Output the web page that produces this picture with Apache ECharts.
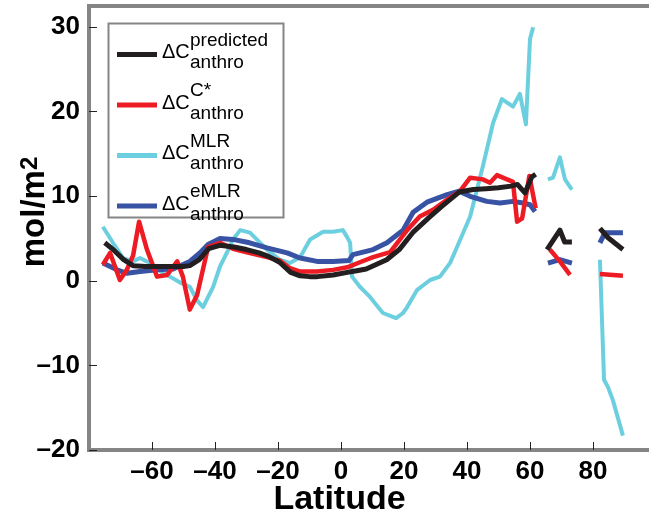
<!DOCTYPE html>
<html><head><meta charset="utf-8">
<script src="https://cdn.jsdelivr.net/npm/echarts@6/dist/echarts.min.js"></script>
<style>html,body{margin:0;padding:0;background:#fff}#c{width:649px;height:517px}</style>
</head><body><div id="c"></div>
<script>
// Legend superscripts (series names)
const seriesNames = ['predicted', 'C*', 'MLR', 'eMLR'];
const seriesColors = ['#231f20', '#ed1c24', '#6ccfdf', '#3953a4'];
const xTicks = [-60, -40, -20, 0, 20, 40, 60, 80];
const yTicks = [-20, -10, 0, 10, 20, 30];
const G = '-'; // gap marker

const predLat = [-75, -72, -69, -66, -62, -58, -54, -50, -48, -45, -42, -38.5, -34, -30, -26, -23, -19.5, -16, -13, -10, -7.5, -2.5, 2, 5, 8, 11, 14.5, 18.5, 23, 28, 32, 37.5, 42, 46, 50, 54, 56, 58.4, 60.6, 61.8, 63, 65.4, 69.5, 71, 73.3, 78, 82.2, 84.8, 89.5];
const predVal = [4.5, 3.6, 2.5, 1.8, 1.7, 1.7, 1.7, 1.7, 1.8, 2.5, 3.8, 4.2, 4.0, 3.7, 3.3, 2.9, 2.2, 1.0, 0.6, 0.5, 0.5, 0.7, 1.0, 1.2, 1.4, 1.9, 2.5, 3.7, 5.8, 7.5, 8.8, 10.5, 10.8, 10.9, 11.0, 11.2, 11.4, 10.4, 12.3, 12.6, G, 3.7, 6.0, 4.6, 4.6, G, 6.2, 5.1, 3.7];

const cstarLat = [-75.6, -73.3, -70.2, -68, -66, -64.1, -61.6, -58.4, -55.2, -52, -50.2, -48, -45.7, -42.2, -38.4, -34.3, -28.9, -23.5, -19.4, -16.2, -13, -7.6, -2.5, 2, 6, 10.2, 15.6, 21, 25, 29.2, 33.7, 37.8, 41, 45, 47.3, 49.5, 52.7, 54.6, 55.9, 57.5, 59.8, 61.8, 63, 66.3, 69.5, 72.7, 78, 82.2, 89.5];
const cstarVal = [1.9, 3.3, 0.1, 1.3, 3.0, 7.0, 3.7, 0.5, 0.7, 2.3, 0.5, -3.4, -1.7, 4.0, 4.5, 3.8, 3.3, 2.8, 2.4, 1.5, 1.1, 1.1, 1.3, 1.6, 2.2, 2.8, 3.4, 6.0, 7.6, 8.4, 9.6, 10.6, 12.2, 12.0, 11.6, 12.5, 12.0, 11.7, 7.0, 7.4, 12.4, 8.6, G, 3.7, 2.3, 0.7, G, 0.8, 0.6];

const mlrLat = [-75.6, -72.4, -69.2, -66, -63.8, -60.6, -56.5, -54.3, -51.1, -48, -45.7, -43.8, -40.6, -38.4, -36, -34.3, -32, -28.9, -23.5, -19.4, -16.2, -13, -9.8, -5.7, -2.5, 0.6, 1.9, 2.9, 3.5, 6, 9.2, 13.3, 17.5, 19.7, 21, 24.1, 28.3, 31.4, 34.6, 36.5, 41, 45, 48.3, 51.1, 54.6, 56.8, 58.7, 60, 61, 63, 65.7, 67.3, 69.5, 71.1, 73.3, 78, 82.2, 83.5, 84.8, 86.3, 89.5];
const mlrVal = [6.4, 4.5, 2.7, 2.3, 2.7, 2.1, 0.9, 0.5, -0.2, -0.7, -2.3, -3.1, -0.7, 1.7, 3.5, 4.9, 6.0, 5.7, 3.7, 2.5, 2.1, 2.8, 4.9, 5.8, 5.8, 6.0, 5.2, 4.5, 0.5, -0.7, -1.9, -3.8, -4.4, -3.8, -3.1, -1.1, 0.1, 0.5, 2.1, 3.7, 7.6, 13.5, 18.7, 21.5, 20.6, 22.1, 18.5, 28.6, 30.0, G, 12.0, 12.2, 14.6, 12.0, 10.8, G, 2.5, -11.7, -12.6, -14.1, -18.3];

const emlrLat = [-75.6, -71.1, -68, -63.8, -58.4, -53.3, -48, -44.8, -42.2, -38.4, -34.3, -29, -23.5, -17.1, -13, -7.6, -2.5, 2.5, 3.8, 10.2, 14.6, 19.7, 22.9, 27.3, 33.7, 37.5, 41, 46.3, 50.5, 54.6, 57.8, 60, 61.6, 63, 65.7, 69.5, 73.3, 78, 82.2, 83.8, 89.5];
const emlrVal = [2.1, 1.3, 0.9, 1.1, 1.3, 1.4, 2.3, 3.3, 4.3, 5.0, 4.9, 4.5, 3.9, 3.3, 2.7, 2.3, 2.3, 2.4, 3.1, 3.7, 4.5, 6.0, 8.1, 9.3, 10.2, 10.6, 10.0, 9.4, 9.2, 9.4, 9.2, 9.0, 8.2, G, 2.1, 2.5, 2.1, G, 4.5, 5.7, 5.7];

function pairs(lat, val) { return lat.map((x, i) => [x, val[i]]); }
const FONT = 'Liberation Sans';
const GRAY = '#858585';
const fmtX = v => xTicks.indexOf(v) >= 0 ? String(v).replace('-', '\u2013') : '';
const fmtY = v => yTicks.indexOf(v) >= 0 ? String(v).replace('-', '\u2013') : '';

const chart = echarts.init(document.getElementById('c'), null, { renderer: 'canvas' });
const mk = (name, lat, val, color, w, z) => ({
  name, type: 'line', data: pairs(lat, val), showSymbol: false, symbol: 'none',
  connectNulls: false, z, lineStyle: { color, width: w, join: 'round' }, itemStyle: { color },
  emphasis: { disabled: true }, animation: false
});
chart.setOption({
  animation: false,
  backgroundColor: '#fff',
  textStyle: { fontFamily: FONT },
  grid: { left: 89, top: 6, right: -7, bottom: 67, containLabel: false, outerBoundsMode: 'none',
    show: true, borderColor: GRAY, borderWidth: 4, backgroundColor: 'transparent' },
  graphic: [{
    type: 'rect', left: 106, top: 21, z: 1, silent: true,
    shape: { width: 175, height: 194 },
    style: { fill: null, stroke: GRAY, lineWidth: 2 }
  }],
  legend: {
    orient: 'vertical', left: 117, top: 31, data: seriesNames,
    padding: 0, itemGap: 9, itemWidth: 40, itemHeight: 5, icon: 'rect',
    selectedMode: false,
    formatter: n => '{pad|}{sup|' + n + '}\n{d|\u0394C}{sub|anthro}\n{e| }',
    textStyle: {
      fontFamily: FONT, color: '#000',
      rich: {
        pad: { width: 28, lineHeight: 4, fontSize: 19 },
        sup: { fontSize: 19, lineHeight: 4, fontFamily: FONT, color: '#000' },
        d: { fontSize: 20, lineHeight: 14, width: 28, verticalAlign: 'top', fontFamily: FONT, color: '#000' },
        sub: { fontSize: 19, lineHeight: 18, padding: [11, 0, 0, 0], verticalAlign: 'top', fontFamily: FONT, color: '#000' },
        e: { fontSize: 2, lineHeight: 10 }
      }
    }
  },
  xAxis: {
    type: 'value', min: -80, max: 100, interval: 20,
    name: 'Latitude', nameLocation: 'middle', nameGap: 33, nameMoveOverlap: false,
    nameTextStyle: { fontFamily: FONT, fontWeight: 'bold', fontSize: 34, color: '#000', verticalAlign: 'top', padding: [0, 66, 0, 0] },
    axisLine: { show: true, onZero: false, lineStyle: { color: GRAY, width: 4 } },
    axisTick: { show: true, inside: true, length: 8, customValues: xTicks, lineStyle: { color: '#222', width: 1 } },
    axisLabel: { formatter: fmtX, fontFamily: FONT, fontWeight: 'bold', fontSize: 26, color: '#000', margin: 9 },
    splitLine: { show: false }
  },
  yAxis: {
    type: 'value', min: -20, max: 32.5, interval: 10,
    name: 'mol/m{sup|2}', nameLocation: 'middle', nameGap: 38, nameMoveOverlap: false,
    nameTextStyle: {
      fontFamily: FONT, fontWeight: 'bold', fontSize: 33, color: '#000', padding: [0, 0, 0, 32],
      rich: { sup: { fontSize: 24, fontWeight: 'bold', fontFamily: FONT, color: '#000', verticalAlign: 'top', lineHeight: 24 } }
    },
    axisLine: { show: true, onZero: false, lineStyle: { color: GRAY, width: 4 } },
    axisTick: { show: true, inside: true, length: 8, customValues: yTicks, lineStyle: { color: '#222', width: 1 } },
    axisLabel: { formatter: fmtY, fontFamily: FONT, fontWeight: 'bold', fontSize: 26, color: '#000', margin: 9 },
    splitLine: { show: false }
  },
  series: [
    mk(seriesNames[0], predLat, predVal, seriesColors[0], 5, 5),
    mk(seriesNames[1], cstarLat, cstarVal, seriesColors[1], 4.5, 4),
    mk(seriesNames[2], mlrLat, mlrVal, seriesColors[2], 4, 2),
    mk(seriesNames[3], emlrLat, emlrVal, seriesColors[3], 5, 3)
  ]
});
</script>
</body></html>
